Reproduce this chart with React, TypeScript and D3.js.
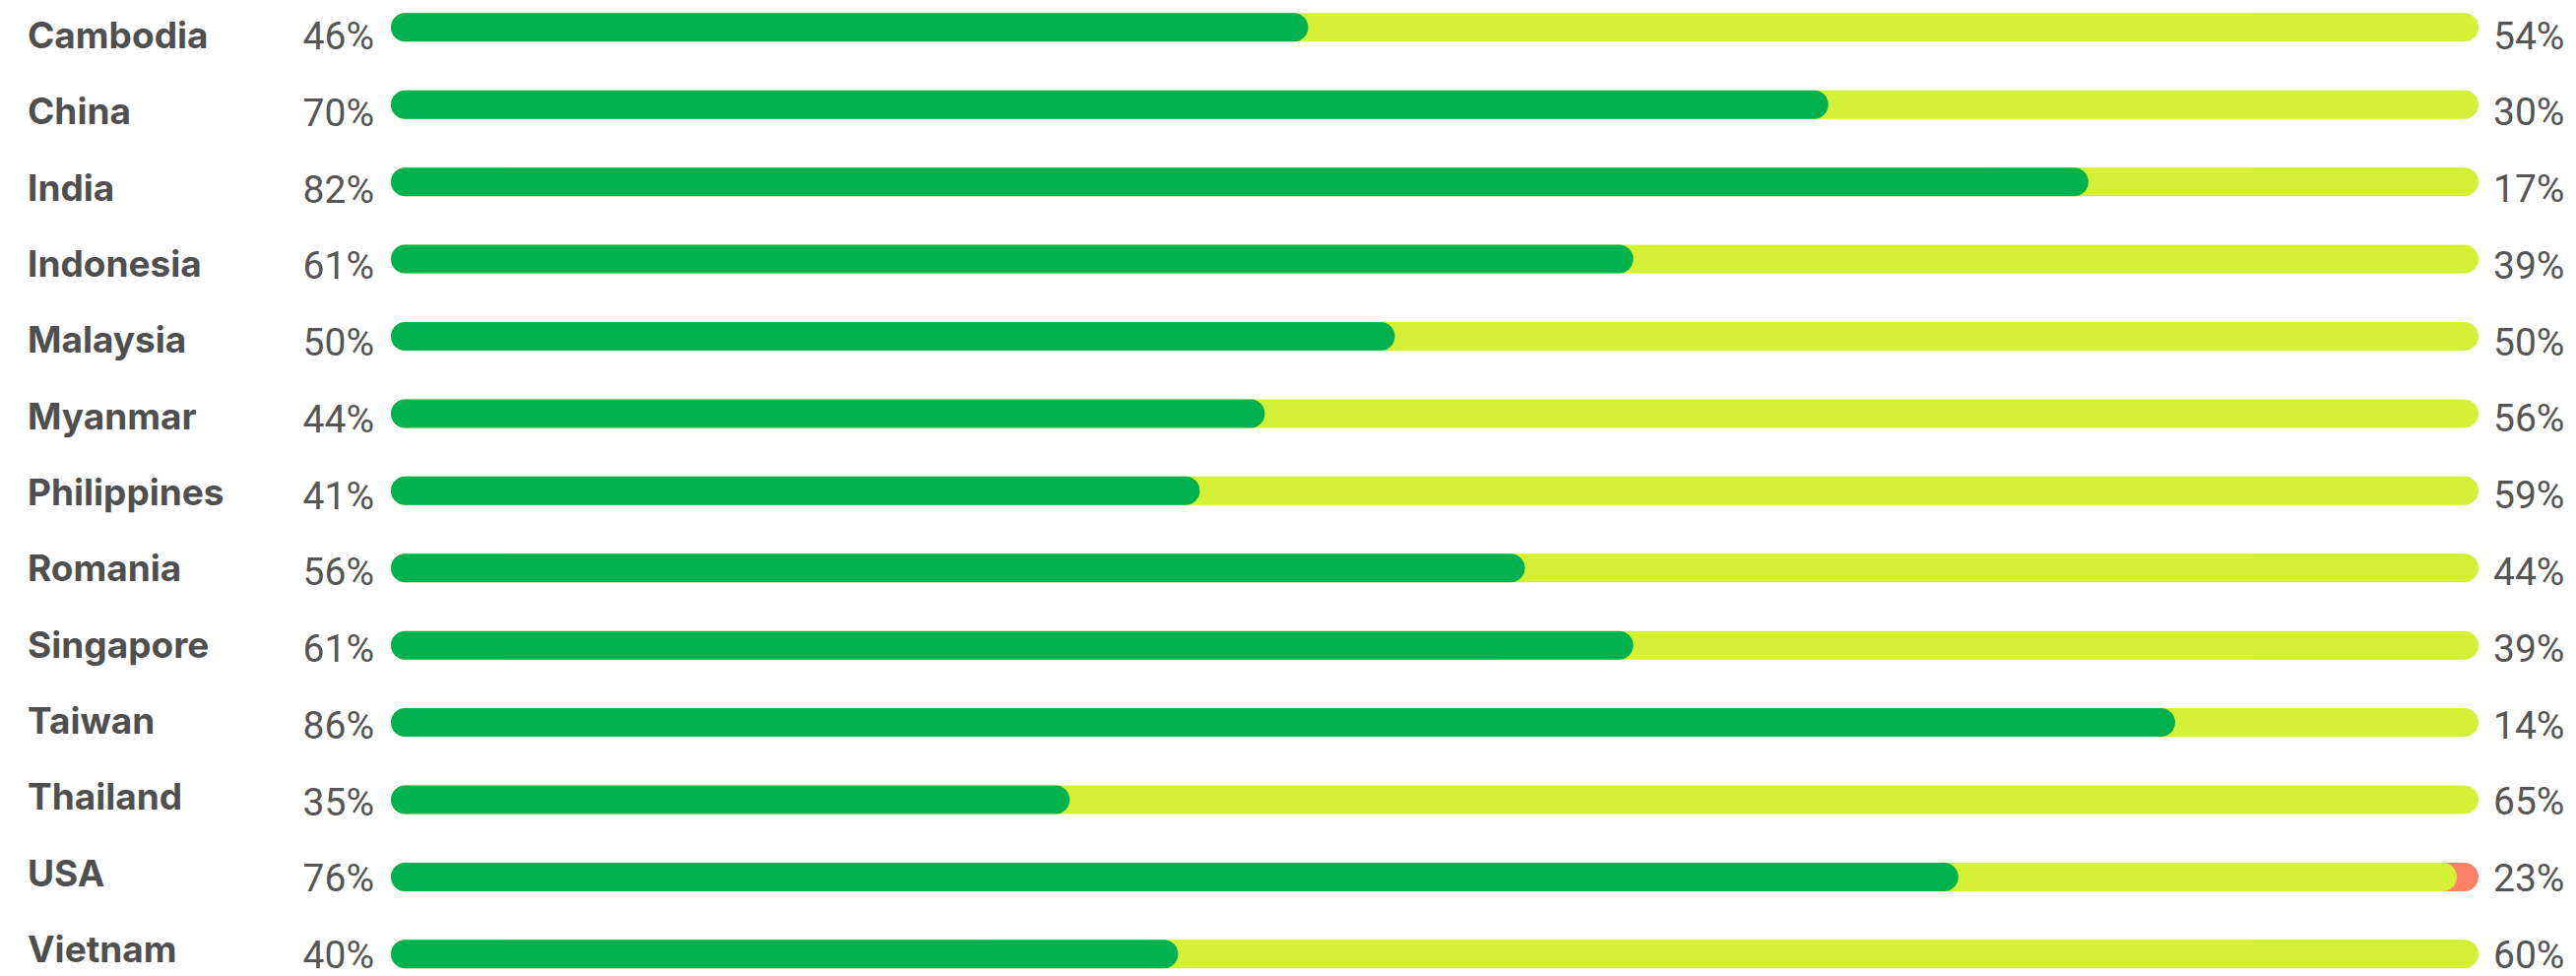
import React from "react";
import * as d3 from "d3";

const countries = ["Cambodia","China","India","Indonesia","Malaysia","Myanmar","Philippines","Romania","Singapore","Taiwan","Thailand","USA","Vietnam"];
const greenValues = [46,70,82,61,50,44,41,56,61,86,35,76,40];
const yellowValues = [54,30,17,39,50,56,59,44,39,14,65,23,60];
const otherValues = [0,0,0,0,0,0,0,0,0,0,0,1,0];
const colors = ["#00b14f", "#d4f136", "#ff806a"];

const W = 2616, H = 991;

export default function App() {
  const x = d3.scaleLinear().domain([0, 100]).range([316, 2517]);
  const trackStart = 397;
  const yBar = d3.scalePoint<string>().domain(countries).range([27.8, 968.8]);
  const yLabel = d3.scalePoint<string>().domain(countries).range([49, 977]);
  const yLeftPct = d3.scalePoint<string>().domain(countries).range([50, 983]);
  const yRightPct = d3.scalePoint<string>().domain(countries).range([49.5, 983]);
  const barH = 29;
  const r = barH / 2;
  const pctFont = "Roboto";
  const pctSize = 39;

  return (
    <svg width={W} height={H} style={{ position: "absolute", left: 0, top: 0, background: "#fff" }}>
      {countries.map((c, i) => {
        const vals = [greenValues[i], yellowValues[i], otherValues[i]];
        const cum = d3.cumsum(vals);
        let lastIdx = 0;
        vals.forEach((v, k) => { if (v > 0) lastIdx = k; });
        const cy = yBar(c)!;
        const segs = vals
          .map((v, k) => ({ k, v, end: k === lastIdx ? x(100) : x(cum[k]) }))
          .filter(s => s.v > 0)
          .reverse();
        return (
          <g key={c}>
            <text x={28} y={yLabel(c)} fontFamily="Inter" fontWeight={700} fontSize={37} fill="#4f4f4f">{c}</text>
            <text x={380} y={yLeftPct(c)} textAnchor="end" fontFamily={pctFont} fontSize={pctSize} fill="#555">{greenValues[i]}%</text>
            {segs.map(s => (
              <rect key={s.k} x={trackStart} y={cy - r} width={Math.max(0, s.end - trackStart)} height={barH} rx={r} ry={r} fill={colors[s.k]} />
            ))}
            <text x={2532} y={yRightPct(c)} fontFamily={pctFont} fontSize={pctSize} fill="#555">{yellowValues[i]}%</text>
          </g>
        );
      })}
    </svg>
  );
}
